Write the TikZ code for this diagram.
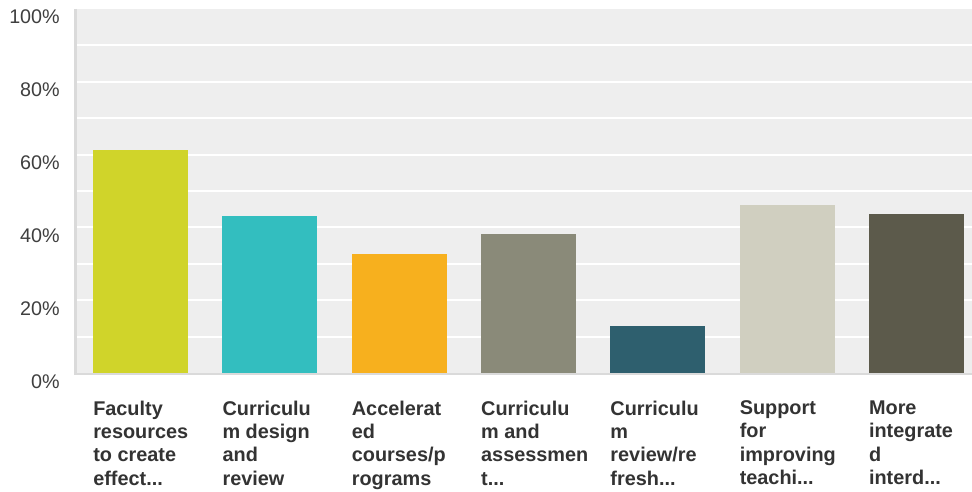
\documentclass[tikz,border=0pt]{standalone}
\usepackage{fontspec}
\setmainfont{Liberation Sans}
\definecolor{plotbg}{HTML}{EEEEEE}
\definecolor{axisgrey}{HTML}{DADADA}
\definecolor{ticktext}{HTML}{3F3F3F}
\definecolor{cattext}{HTML}{333333}
\definecolor{cA}{RGB}{208,212,42}
\definecolor{cB}{RGB}{51,190,191}
\definecolor{cC}{RGB}{247,176,30}
\definecolor{cD}{RGB}{138,138,121}
\definecolor{cE}{RGB}{46,95,110}
\definecolor{cF}{RGB}{208,207,192}
\definecolor{cG}{RGB}{92,90,75}
\begin{document}
\begin{tikzpicture}[x=0.75pt,y=-0.75pt,
  ticklabel/.style={anchor=base east,inner sep=0pt,text=ticktext,font=\fontsize{14.8}{17.5}\selectfont},
  catlabel/.style={anchor=north west,inner sep=0pt,align=left,text=cattext,font=\fontsize{14.9}{17.5}\selectfont\bfseries},
  gridline/.style={white,line width=1.5pt},
  bar/.style={fill=#1,draw=none}]
\useasboundingbox (0,0) rectangle (972,492);
\fill[white] (0,0) rectangle (972,492);
\fill[plotbg] (74,9) rectangle (972,373);
% gridlines
\foreach \k in {1,...,9}
  \draw[gridline] (77,{373-36.4*\k}) -- (972,{373-36.4*\k});
% bars
\foreach \i/\v/\c in {1/61.3/cA,2/43.1/cB,3/32.7/cC,4/38.2/cD,5/12.9/cE,6/46.2/cF,7/43.7/cG}
  \fill[bar=\c] ({93+129.3*(\i-1)},373) rectangle ({93+129.3*(\i-1)+95},{373-3.64*\v});
% axes
\draw[axisgrey,line width=2.2pt] (75.5,9) -- (75.5,374);
\draw[axisgrey,line width=1.5pt] (74,373.5) -- (972,373.5);
% tick labels
\foreach \k/\t in {0/0,1/20,2/40,3/60,4/80,5/100}
  \node[ticklabel] (t\k) at (60,{373-72.8*\k+15}) {\t\%};
% category labels
\node[catlabel] (l1) at (93,400.5) {Faculty\\resources\\to create\\effect...};
\node[catlabel] (l2) at (222.3,400.5) {Curriculu\\m design\\and\\review};
\node[catlabel] (l3) at (351.6,400.5) {Accelerat\\ed\\courses/p\\rograms};
\node[catlabel] (l4) at (480.9,400.5) {Curriculu\\m and\\assessmen\\t...};
\node[catlabel] (l5) at (610.2,400.5) {Curriculu\\m\\review/re\\fresh...};
\node[catlabel] (l6) at (739.5,400.5) {Support\\for\\improving\\teachi...};
\node[catlabel] (l7) at (868.8,400.5) {More\\integrate\\d\\interd...};
\end{tikzpicture}
\end{document}
